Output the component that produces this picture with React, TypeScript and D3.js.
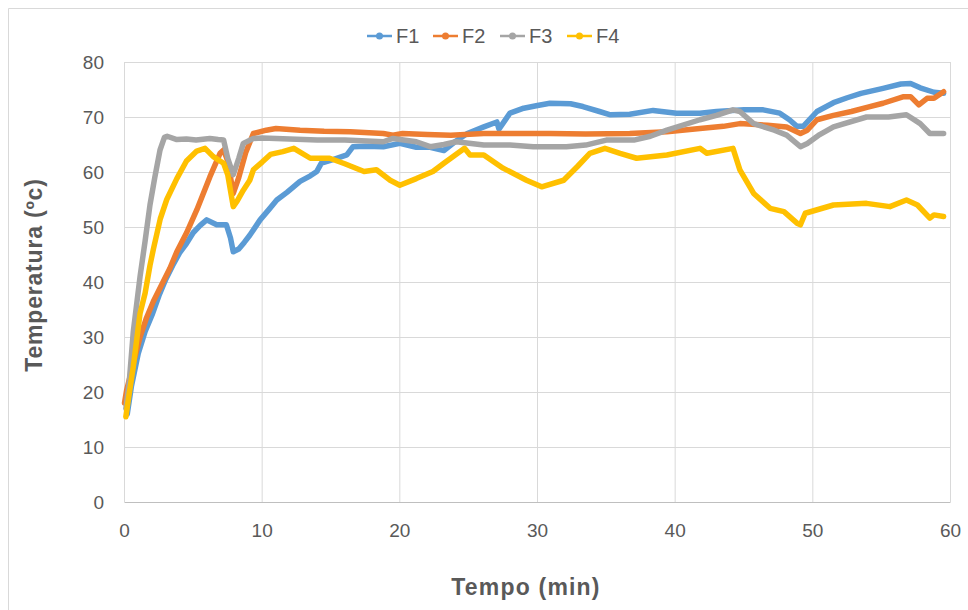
import React from 'react';
import * as d3 from 'd3';

// Reading of the four series (time in min, temperature in ºC)
const f1Time = [0.2, 0.5, 1, 1.5, 2, 2.5, 3, 3.5, 4, 4.5, 5, 5.5, 5.97, 6.7, 7.4, 7.7, 7.9, 8.3, 8.7, 9.1, 9.85, 10.5, 11.06, 11.8, 12.75, 13.5, 13.97, 14.3, 15.2, 16.15, 16.6, 17.5, 18.8, 20.0, 21.2, 22.2, 23.2, 24.0, 24.9, 26.1, 27.05, 27.2, 28.0, 29.0, 30.0, 30.9, 32.4, 33.3, 34.5, 35.3, 36.7, 38.4, 40.1, 41.8, 43.0, 45.0, 46.4, 47.6, 48.3, 48.85, 49.3, 50.3, 51.5, 52.5, 53.5, 55.1, 56.4, 57.1, 57.8, 58.8, 59.5];
const f1Temp = [16, 21, 27, 31, 34, 37.5, 40.5, 43, 45.3, 47, 49, 50.3, 51.3, 50.4, 50.4, 48, 45.5, 46, 47.2, 48.5, 51.3, 53.2, 54.9, 56.3, 58.3, 59.3, 60.1, 61.6, 62.3, 63.1, 64.6, 64.7, 64.6, 65.2, 64.5, 64.5, 63.9, 65.5, 67, 68.2, 69.1, 67.8, 70.7, 71.6, 72.1, 72.5, 72.4, 71.9, 71.0, 70.4, 70.5, 71.2, 70.7, 70.7, 71.0, 71.3, 71.3, 70.7, 69.5, 68.3, 68.3, 71.0, 72.6, 73.5, 74.3, 75.2, 76.0, 76.1, 75.3, 74.5, 74.3];

const f2Time = [0, 0.16, 0.64, 1.13, 1.6, 2.1, 2.8, 3.3, 3.8, 4.5, 5.25, 6.2, 6.94, 7.2, 7.5, 7.9, 8.3, 8.8, 9.36, 10.3, 11, 12.75, 14.5, 16.4, 18.8, 19.5, 20.2, 22, 23.7, 26.1, 28.5, 30.9, 33.5, 36.7, 39.4, 41.8, 43.5, 44.7, 46.7, 48.1, 49.1, 49.6, 50.3, 51.5, 52.8, 54, 55.1, 56.6, 57.1, 57.7, 58.3, 58.8, 59.5];
const f2Temp = [18, 20.4, 25.2, 30, 33.5, 36.5, 40, 42.5, 45.5, 48.9, 53.1, 59.1, 63.4, 64, 62, 56.1, 59, 63.5, 67.0, 67.6, 67.9, 67.6, 67.4, 67.3, 67.0, 66.7, 67.0, 66.8, 66.7, 67.0, 67.0, 67.0, 66.9, 67.0, 67.3, 67.9, 68.3, 68.8, 68.5, 68.2, 67.0, 67.6, 69.5, 70.3, 71.0, 71.8, 72.5, 73.7, 73.7, 72.2, 73.4, 73.4, 74.6];

const f3Time = [0.1, 0.35, 0.64, 1.13, 1.5, 1.85, 2.2, 2.58, 2.9, 3.1, 3.8, 4.5, 5.2, 6.2, 6.8, 7.2, 7.5, 7.9, 8.3, 8.63, 9.36, 10, 12, 14, 16, 18.8, 19.5, 21.2, 22.2, 23.2, 24.1, 26.1, 28, 29.7, 32.1, 33.5, 35.0, 37, 38.2, 39.4, 41.8, 43, 44.2, 44.7, 45.7, 47.2, 48.1, 49.1, 49.6, 50.5, 51.5, 53.9, 55.5, 56.8, 57.8, 58.5, 59.5];
const f3Temp = [17, 22, 31, 41, 47.5, 54, 59, 64, 66.3, 66.5, 65.9, 66.0, 65.8, 66.1, 65.9, 65.8, 62.5, 59.5, 62.5, 65.2, 66.1, 66.2, 66.0, 65.8, 65.8, 65.5, 66.1, 65.5, 64.6, 65.0, 65.5, 64.9, 64.9, 64.6, 64.6, 64.9, 65.8, 65.8, 66.5, 67.6, 69.5, 70.3, 71.3, 71.0, 68.8, 67.6, 66.7, 64.6, 65.2, 66.8, 68.2, 70.0, 70.0, 70.4, 68.8, 67.0, 67.0];

const f4Time = [0.1, 0.3, 0.64, 1.13, 1.5, 1.85, 2.1, 2.6, 3.07, 3.8, 4.5, 5.25, 5.85, 6.45, 7.2, 7.5, 7.9, 8.2, 8.63, 9.1, 9.36, 10, 10.6, 11.5, 12.3, 13.5, 14.9, 16, 17.4, 18.3, 19.3, 20.0, 21.2, 22.4, 23.2, 24.7, 25.1, 26.1, 27.5, 29.2, 30.3, 31.9, 32.9, 33.8, 34.9, 36.0, 37.2, 39.4, 41.8, 42.3, 44.2, 44.7, 45.7, 46.9, 47.9, 48.85, 49.1, 49.45, 51.5, 53.9, 55.6, 56.8, 57.6, 58.5, 58.8, 59.5];
const f4Temp = [15.5, 19, 24.6, 34.3, 38, 43, 46, 51.5, 55, 58.8, 62, 63.8, 64.3, 62.8, 61.6, 59.5, 53.7, 54.8, 56.7, 58.5, 60.4, 61.8, 63.2, 63.7, 64.3, 62.5, 62.5, 61.5, 60.1, 60.4, 58.5, 57.6, 58.8, 60.1, 61.6, 64.3, 63.1, 63.1, 60.7, 58.5, 57.3, 58.5, 61.0, 63.4, 64.3, 63.4, 62.5, 63.1, 64.3, 63.4, 64.3, 60.4, 56.1, 53.4, 52.8, 50.7, 50.4, 52.5, 54.0, 54.3, 53.7, 54.9, 54.0, 51.6, 52.2, 51.9];

const seriesNames = ['F1', 'F2', 'F3', 'F4'];
const seriesColors = ['#5b9bd5', '#ed7d31', '#a5a5a5', '#ffc000'];
const xTicks = [0, 10, 20, 30, 40, 50, 60];
const yTicks = [0, 10, 20, 30, 40, 50, 60, 70, 80];

const W = 968;
const H = 610;
const left = 124.5;
const right = 950.5;
const top = 62;
const bottom = 502;
const textColor = '#595959';
const font = '"Liberation Sans", Arial, sans-serif';

const App = () => {
  const x = d3.scaleLinear().domain([0, 60]).range([left, right]);
  const y = d3.scaleLinear().domain([0, 80]).range([bottom, top]);

  const series = [
    { time: f1Time, temp: f1Temp },
    { time: f2Time, temp: f2Temp },
    { time: f3Time, temp: f3Temp },
    { time: f4Time, temp: f4Temp },
  ];

  const line = d3.line<[number, number]>()
    .x(d => x(d[0]))
    .y(d => y(d[1]));

  // legend layout
  const legendX = [367, 433, 500, 567];

  return (
    <svg width={W} height={H} style={{ position: 'fixed', left: 0, top: 0, background: '#fff' }}>
      <line x1={8.5} x2={W} y1={8.5} y2={8.5} stroke="#d9d9d9" />
      <line x1={8.5} x2={8.5} y1={8.5} y2={H} stroke="#d9d9d9" />

      {yTicks.map(t => (
        <line key={'gy' + t} x1={left} x2={right} y1={Math.round(y(t)) + 0.5} y2={Math.round(y(t)) + 0.5}
          stroke={t === 0 ? '#bfbfbf' : '#d9d9d9'} strokeWidth={1} />
      ))}
      {xTicks.map(t => (
        <line key={'gx' + t} x1={x(t)} x2={x(t)} y1={top} y2={bottom} stroke="#d9d9d9" strokeWidth={1} />
      ))}

      {yTicks.map(t => (
        <text key={'ty' + t} x={104} y={y(t)} dy="0.35em" textAnchor="end" fontFamily={font} fontSize={19} fill={textColor}>{t}</text>
      ))}
      {xTicks.map(t => (
        <text key={'tx' + t} x={x(t)} y={530} dy="0.35em" textAnchor="middle" fontFamily={font} fontSize={19} fill={textColor}>{t}</text>
      ))}

      {series.map((s, i) => (
        <path key={'s' + i}
          d={line(s.time.map((t, j) => [t, s.temp[j]] as [number, number])) || ''}
          fill="none" stroke={seriesColors[i]} strokeWidth={5.5}
          strokeLinejoin="round" strokeLinecap="round" />
      ))}

      {seriesNames.map((n, i) => (
        <g key={'lg' + n}>
          <line x1={legendX[i]} x2={legendX[i] + 25} y1={36} y2={36} stroke={seriesColors[i]} strokeWidth={2.5} />
          <circle cx={legendX[i] + 12.5} cy={36} r={3.5} fill={seriesColors[i]} />
          <text x={legendX[i] + 29} y={36} dy="0.35em" fontFamily={font} fontSize={20} fill={textColor}>{n}</text>
        </g>
      ))}

      <text x={526} y={595} textAnchor="middle" fontFamily={font} fontSize={23} fontWeight="bold" letterSpacing={1.2} fill={textColor}>Tempo (min)</text>
      <text transform="translate(42,275) rotate(-90)" textAnchor="middle" fontFamily={font} fontSize={23} fontWeight="bold" letterSpacing={0.8} fill={textColor}>Temperatura (ºc)</text>
    </svg>
  );
};

export default App;
